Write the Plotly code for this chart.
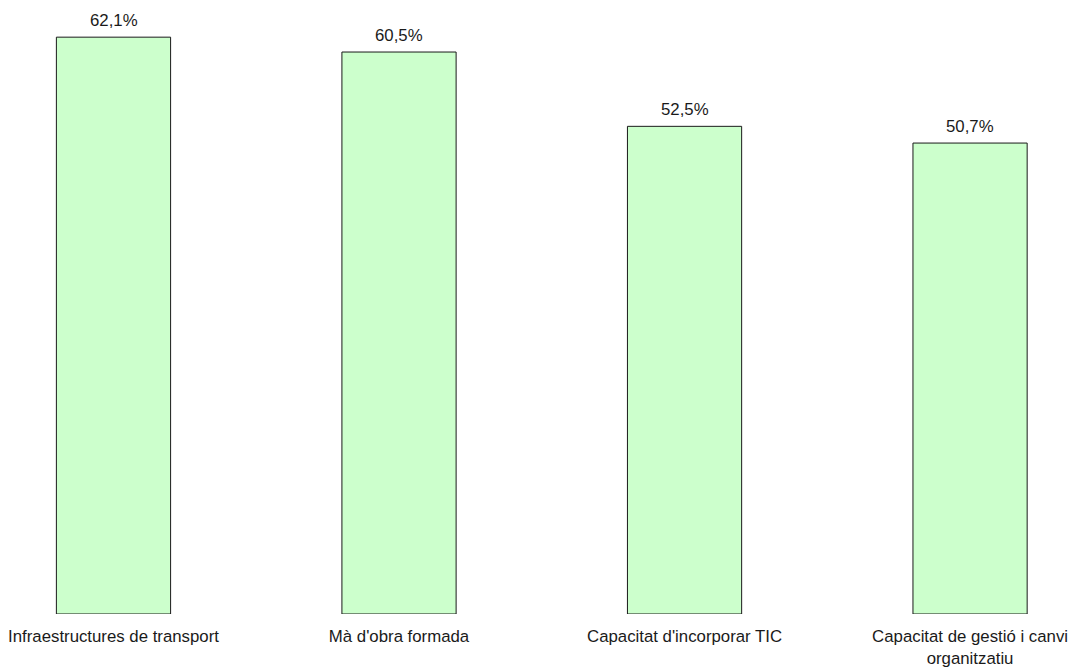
import plotly.graph_objects as go

categories = [
    "Infraestructures de transport",
    "Mà d'obra formada",
    "Capacitat d'incorporar TIC",
    "Capacitat de gestió i canvi<br>organitzatiu",
]
values = [62.1, 60.5, 52.5, 50.7]

FONT = "Liberation Sans, Arial"
FS = 16.8

fig = go.Figure(
    go.Bar(
        x=categories,
        y=values,
        width=0.4,
        marker=dict(color="#CCFFCC", line=dict(color="#1a1a1a", width=1)),
        cliponaxis=False,
        hoverinfo="x+y",
    )
)

for c, v in zip(categories, values):
    fig.add_annotation(
        x=c,
        y=v,
        text=f"{v:.1f}%".replace(".", ","),
        showarrow=False,
        yanchor="bottom",
        yshift=5,
        font=dict(family=FONT, size=FS, color="#1a1a1a"),
    )

fig.update_layout(
    width=1070,
    height=669,
    margin=dict(l=0, r=0, t=0, b=55),
    paper_bgcolor="white",
    plot_bgcolor="white",
    separators=",.",
    showlegend=False,
    font=dict(family=FONT, size=FS, color="#1a1a1a"),
    xaxis=dict(
        range=[-0.3975, 3.350],
        showgrid=False,
        showline=False,
        zeroline=False,
        ticks="outside",
        ticklen=7,
        tickcolor="rgba(0,0,0,0)",
        tickfont=dict(size=FS),
        automargin=False,
    ),
    yaxis=dict(
        range=[0, 66.1],
        visible=False,
    ),
)

fig.write_html(
    "out.html",
    config={"displayModeBar": False},
    post_script="document.body.style.margin='0';document.body.style.overflow='hidden';",
)
